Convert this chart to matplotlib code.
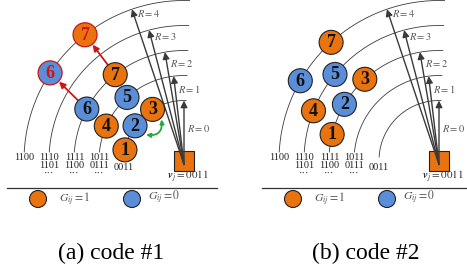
import numpy as np
import matplotlib.pyplot as plt
from matplotlib.patches import Circle, Rectangle, FancyArrowPatch

plt.rcParams['font.family'] = 'Liberation Serif'
plt.rcParams['mathtext.fontset'] = 'stix'

# ring structure (shared by both panels)
ring_radius = [60, 85, 110, 135, 160]
ring_codes = ["0011", "1011\n0111\n\u00b7\u00b7\u00b7", "1111\n1100\n\u00b7\u00b7\u00b7",
              "1110\n1101\n\u00b7\u00b7\u00b7", "1100"]
ring_names = ["$R = 0$", "$R = 1$", "$R = 2$", "$R = 3$", "$R = 4$"]
arrow_tilt = [0, 7, 10, 15, 19]        # degrees left of vertical
name_dist = [32, 72, 98, 128, 155]     # where the R label sits along the arrow
vj_text = r"$\boldsymbol{v}_j = 0011$"

# panel (a): code #1
code1_ids = [1, 2, 3, 4, 5, 6, 7]
code1_G = [1, 0, 1, 1, 0, 0, 1]
code1_ring = [0, 0, 0, 1, 1, 2, 2]
code1_angle = [169.8, 144.7, 121.6, 156.1, 132.1, 152.1, 128.7]
moved_ids = [6, 7]
moved_G = [0, 1]
moved_ring = [4, 4]
moved_angle = [146.8, 128.2]

# panel (b): code #2
code2_ids = [1, 2, 3, 4, 5, 6, 7]
code2_G = [1, 0, 1, 1, 0, 0, 1]
code2_ring = [2, 2, 2, 3, 3, 4, 4]
code2_angle = [166.3, 149.3, 132.4, 158.4, 140.4, 150.1, 132.4]

captions = ["(a) code #1", "(b) code #2"]

ORANGE = '#E8730F'
BLUE = '#5B8ED8'
DARK = '#3a3a3a'
RED = '#CC1616'
GREEN = '#1FAA3C'
NODE_R = 12
PT = 0.72  # points per pixel at dpi 100

fig = plt.figure(figsize=(4.67, 2.73), dpi=100)
ax = fig.add_axes([0, 0, 1, 1])
ax.set_xlim(0, 467)
ax.set_ylim(273, 0)
ax.axis('off')


def pos(cx, cy, ring, ang):
    r = ring_radius[ring]
    t = np.radians(ang)
    return cx + r * np.cos(t), cy - r * np.sin(t)


def node(x, y, num, g, edge='#222222', tcol='#111111', ecw=0.8):
    ax.add_patch(Circle((x, y), NODE_R, fc=ORANGE if g else BLUE, ec=edge, lw=ecw, zorder=5))
    ax.text(x, y + 0.5, str(num), ha='center', va='center', fontsize=13,
            fontweight='bold', color=tcol, zorder=6)


def panel(cx, cy, ids, gs, rings, angs, caption, xl):
    # rings
    for k, r in enumerate(ring_radius):
        y_end = 157 if k == 0 else 152
        t0 = np.pi - np.arcsin((cy - y_end) / r)
        t = np.linspace(np.radians(88), t0, 200)
        ax.plot(cx + r * np.cos(t), cy - r * np.sin(t), color=DARK, lw=0.6, zorder=1)
        ax.text(cx + r * np.cos(t0), y_end + (6 if k == 0 else 1), ring_codes[k],
                ha='center', va='top', fontsize=7.5, linespacing=0.85, color='#222222')
    # source square
    ax.add_patch(Rectangle((cx - 10, cy - 9.5), 20, 19.5, fc=ORANGE, ec='#222222',
                           lw=0.8, zorder=2))
    # radius arrows
    for k, r in enumerate(ring_radius):
        a = np.radians(arrow_tilt[k])
        tip = (cx - r * np.sin(a), cy - r * np.cos(a))
        ax.add_patch(FancyArrowPatch((cx, cy + 4), tip, arrowstyle='-|>', mutation_scale=10,
                                     color=DARK, lw=1.0, shrinkA=0, shrinkB=0, zorder=3))
        d = name_dist[k]
        ax.text(cx - d * np.sin(a) + 3, cy - d * np.cos(a), ring_names[k], ha='left',
                va='center', fontsize=7.5, color='#555555')
    ax.text(cx + 4, 177, vj_text, ha='center', va='center', fontsize=8, color='#333333')
    # nodes
    for n, g, rg, an in zip(ids, gs, rings, angs):
        x, y = pos(cx, cy, rg, an)
        node(x, y, n, g)
    # separator and legend
    ax.plot([xl, xl + 210], [188, 188], color='#333333', lw=0.9)
    ax.add_patch(Circle((xl + 31, 199), 8.5, fc=ORANGE, ec='#222222', lw=0.8))
    ax.text(xl + 52, 199, r"$G_{ij} = 1$", ha='left', va='center', fontsize=8.5, color='#555555')
    ax.add_patch(Circle((xl + 125, 199), 8.5, fc=BLUE, ec='#222222', lw=0.8))
    ax.text(xl + 141, 197, r"$G_{ij} = 0$", ha='left', va='center', fontsize=8.5, color='#555555')
    ax.text(cx - 73, 253, caption, ha='center', va='center', fontsize=17)


panel(184, 160.5, code1_ids, code1_G, code1_ring, code1_angle, captions[0], 7)
panel(439, 160.5, code2_ids, code2_G, code2_ring, code2_angle, captions[1], 262)

# moved nodes of code #1 (red)
for n, g, rg, an in zip(moved_ids, moved_G, moved_ring, moved_angle):
    x, y = pos(184, 160.5, rg, an)
    node(x, y, n, g, edge=RED, tcol=RED, ecw=0.9)
    src = code1_ids.index(n)
    x0, y0 = pos(184, 160.5, code1_ring[src], code1_angle[src])
    ax.add_patch(FancyArrowPatch((x0, y0), (x, y), arrowstyle='-|>', mutation_scale=9,
                                 color=RED, lw=1.3, shrinkA=(NODE_R + 1) * PT,
                                 shrinkB=(NODE_R + 0.5) * PT, zorder=4))

# swap between node 2 and node 3
x2, y2 = pos(184, 160.5, code1_ring[1], code1_angle[1])
x3, y3 = pos(184, 160.5, code1_ring[2], code1_angle[2])
ax.add_patch(FancyArrowPatch((x2 + 11, y2 + 9), (x3 + 9, y3 + 10), arrowstyle='<|-|>',
                             mutation_scale=6, color=GREEN, lw=1.3,
                             connectionstyle='arc3,rad=0.6', shrinkA=0, shrinkB=0, zorder=4))

plt.savefig('out.png', dpi=100)
